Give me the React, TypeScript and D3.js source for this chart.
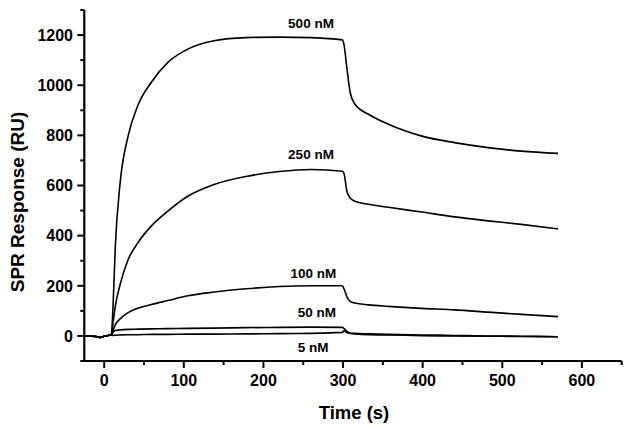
import React from "react";
import * as d3 from "d3";

const times = [-25, -10, -5, 0, 5, 9, 11, 14, 20, 30, 42, 59, 80, 105, 138, 178, 220, 260, 299, 301, 305, 309, 315, 332, 357, 399, 440, 482, 524, 570];

const nm500 = [0, -2, -6, -1, 2, 5, 110, 360, 610, 797, 917, 1011, 1091, 1144, 1177, 1190, 1192, 1190, 1181, 1165, 1064, 971, 924, 884, 844, 797, 771, 751, 737, 728];
const nm250 = [0, -2, -6, -1, 2, 5, 50, 120, 205, 304, 370, 438, 498, 557, 604, 636, 656, 664, 657, 650, 575, 550, 537, 525, 513, 494, 475, 459, 445, 427];
const nm100 = [0, -2, -6, -1, 2, 5, 20, 45, 68, 93, 110, 125, 141, 160, 175, 188, 197, 200, 200, 190, 155, 138, 131, 124, 118, 110, 104, 95, 86, 77];
const nm50 = [0, -2, -6, -1, 2, 5, 15, 22, 24, 26, 27, 28, 29, 30, 31, 33, 34, 35, 34, 30, 18, 12, 10, 8, 6, 4, 2, 0, -1, -3];
const nm5 = [0, -2, -6, -1, 2, 4, 2, 3, 4, 5, 5, 6, 6, 7, 7, 8, 9, 10, 14, 20, 13, 10, 8, 5, 4, 1, 0, -1, -2, -3];

const seriesNames = ["500 nM", "250 nM", "100 nM", "50 nM", "5 nM"];
const seriesValues = [nm500, nm250, nm100, nm50, nm5];
// label anchor positions in data units (time, response)
const labelTimes = [231, 231, 234, 243, 243];
const labelValues = [1230, 705, 232, 75, -65];

const xMajorTicks = [0, 100, 200, 300, 400, 500, 600];
const xMinorTicks = [50, 150, 250, 350, 450, 550, 650];
const yMajorTicks = [0, 200, 400, 600, 800, 1000, 1200];
const yMinorTicks = [-100, 100, 300, 500, 700, 900, 1100, 1300];

const xTitle = "Time (s)";
const yTitle = "SPR Response (RU)";

export default function App() {
  const W = 628;
  const H = 429;
  const x = d3.scaleLinear().domain([-25, 650]).range([84.3, 621.7]);
  const y = d3.scaleLinear().domain([-100, 1300]).range([361, 10]);
  const line = d3
    .line<number>()
    .x((_, i) => x(times[i]))
    .y((v) => y(v))
    .curve(d3.curveMonotoneX);

  const font = "'Liberation Sans', Arial, Helvetica, sans-serif";
  const axisY = y(-100);
  const axisX = x(-25);

  return (
    <svg
      width={W}
      height={H}
      viewBox={`0 0 ${W} ${H}`}
      style={{ position: "absolute", left: 0, top: 0, background: "#fff" }}
      fontFamily={font}
    >
      <rect width={W} height={H} fill="#fff" />
      {seriesValues.map((vals, i) => (
        <path key={seriesNames[i]} d={line(vals) || ""} fill="none" stroke="#000" strokeWidth={1.6} strokeLinejoin="round" />
      ))}
      {seriesNames.map((n, i) => (
        <text key={n} x={x(labelTimes[i])} y={y(labelValues[i])} fontSize={13.5} fontWeight="bold" textAnchor="start" fill="#000">
          {n}
        </text>
      ))}
      {/* axes */}
      <line x1={axisX} x2={axisX} y1={y(1300)} y2={axisY + 1} stroke="#000" strokeWidth={2.2} />
      <line x1={axisX - 1} x2={x(650)} y1={axisY} y2={axisY} stroke="#000" strokeWidth={2.2} />
      {xMajorTicks.map((t) => (
        <g key={"xm" + t}>
          <line x1={x(t)} x2={x(t)} y1={axisY} y2={axisY + 7} stroke="#000" strokeWidth={2} />
          <text x={x(t)} y={386} textAnchor="middle" fontSize={16} fontWeight="bold" fill="#000">
            {t}
          </text>
        </g>
      ))}
      {xMinorTicks.map((t) => (
        <line key={"xn" + t} x1={x(t)} x2={x(t)} y1={axisY} y2={axisY + 4} stroke="#000" strokeWidth={2} />
      ))}
      {yMajorTicks.map((v) => (
        <g key={"ym" + v}>
          <line x1={axisX - 7} x2={axisX} y1={y(v)} y2={y(v)} stroke="#000" strokeWidth={2} />
          <text x={73} y={y(v) + 5.8} textAnchor="end" fontSize={16} fontWeight="bold" fill="#000">
            {v}
          </text>
        </g>
      ))}
      {yMinorTicks.map((v) => (
        <line key={"yn" + v} x1={axisX - 4} x2={axisX} y1={y(v)} y2={y(v)} stroke="#000" strokeWidth={2} />
      ))}
      <text x={354} y={419} textAnchor="middle" fontSize={18.5} fontWeight="bold" fill="#000">
        {xTitle}
      </text>
      <text
        transform={`translate(24,202) rotate(-90)`}
        textAnchor="middle"
        fontSize={19}
        fontWeight="bold"
        fill="#000"
      >
        {yTitle}
      </text>
    </svg>
  );
}
